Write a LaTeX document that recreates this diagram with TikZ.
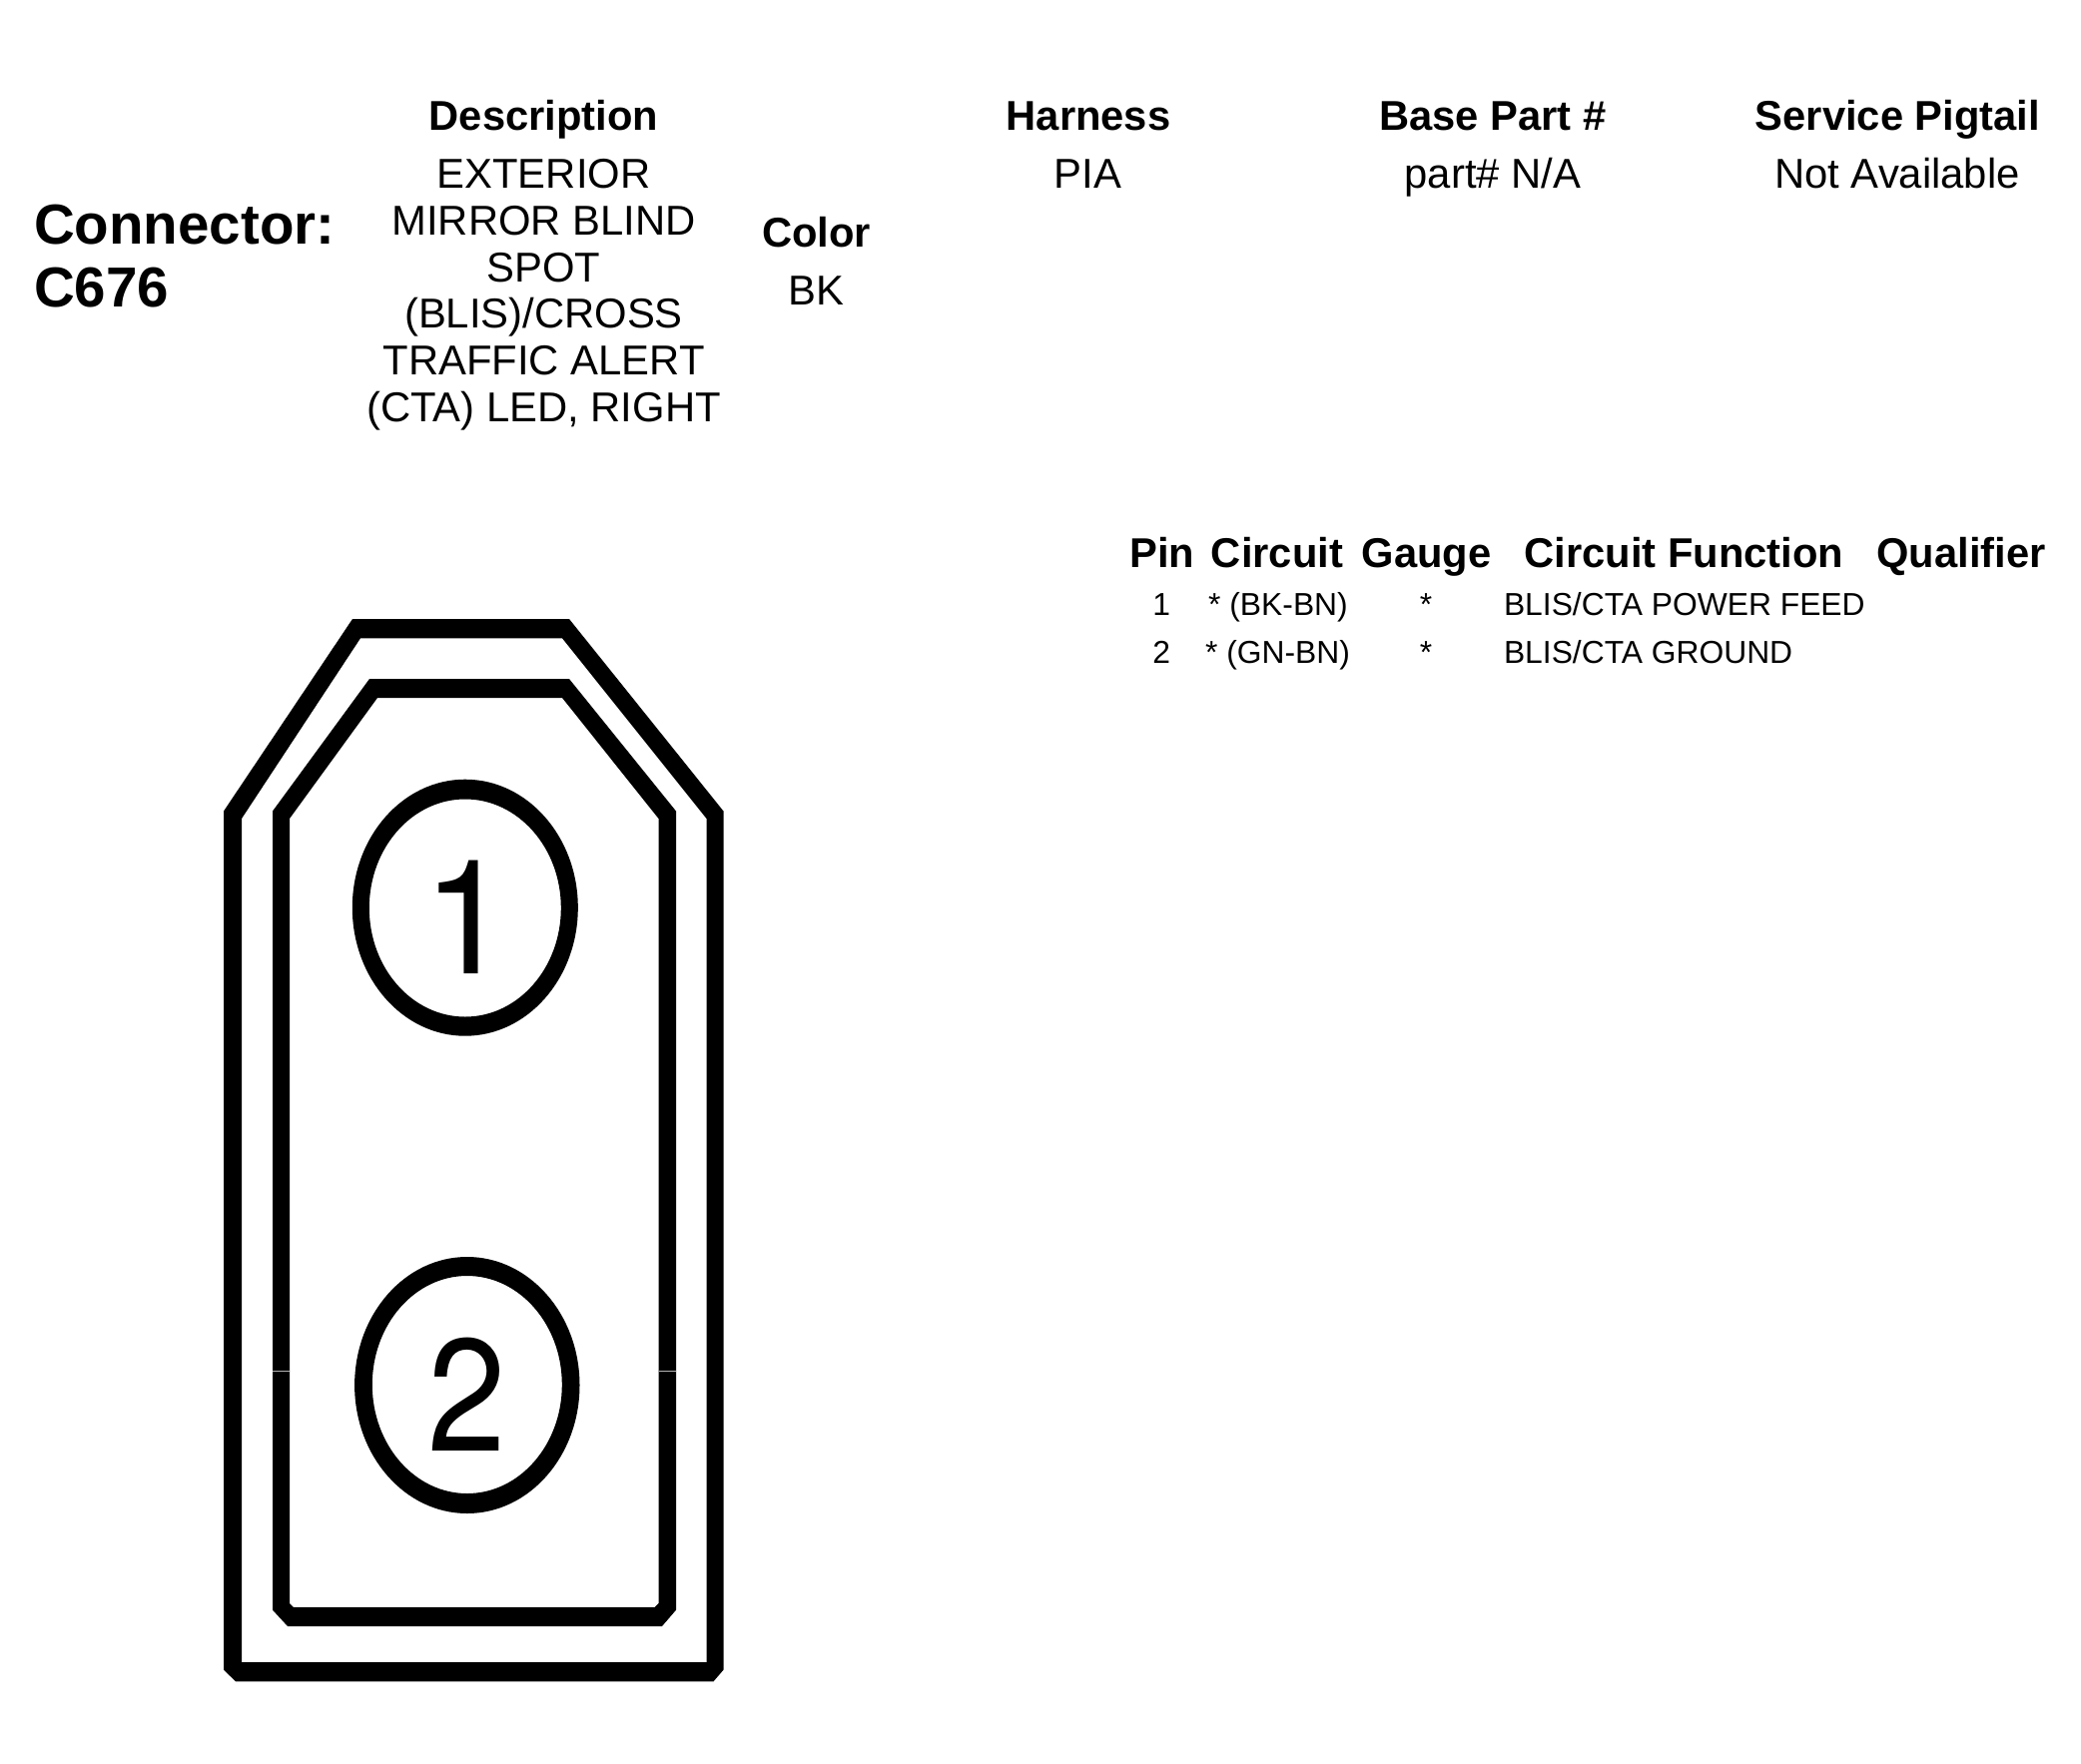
\documentclass[tikz,border=0pt]{standalone}
\usepackage{graphicx}
\usepackage{fontspec}
\setmainfont{Liberation Sans}
\newfontfamily\pinfont{TeX Gyre Heros}
\tikzset{
  px/.style={inner sep=0pt,outer sep=0pt,text depth=0pt},
  head/.style={px,anchor=base,font=\fontsize{41.7}{46.7}\selectfont\bfseries},
  body/.style={px,anchor=base,font=\fontsize{41.8}{46.7}\selectfont},
  bighead/.style={px,anchor=base west,font=\fontsize{56.5}{64}\selectfont\bfseries},
  thead/.style={px,anchor=base,font=\fontsize{41.7}{46}\selectfont\bfseries},
  tcell/.style={px,anchor=base,font=\fontsize{31.8}{36}\selectfont},
  tcellw/.style={px,anchor=base west,font=\fontsize{31.8}{36}\selectfont},
  pindigit/.style={px,anchor=base,font=\fontsize{160}{160}\pinfont\selectfont},
  solidpart/.style={fill=black,even odd rule,draw=none}
}
\begin{document}
\begin{tikzpicture}[x=1pt,y=-1pt]
\useasboundingbox (0,0) rectangle (2084,1766);
\fill[white] (0,0) rectangle (2084,1766);
% connector outline
\fill[solidpart]
  (224,812.5) -- (353,620) -- (570,620) -- (724.5,812.5) -- (724.5,1672.7) -- (714.5,1684.3) -- (236,1684.3) -- (224,1672.7) -- cycle
  (242,820) -- (242,1665) -- (707.5,1665) -- (707.5,820) -- (563,639.3) -- (361,639.3) -- cycle;
\fill[solidpart]
  (273,812.5) -- (370,680) -- (570,680) -- (677,812.5) -- (677,1612.7) -- (663,1629) -- (288,1629) -- (273,1612.7) -- cycle
  (290,820) -- (290,1606) -- (294,1610) -- (655.5,1610) -- (659.5,1606) -- (659.5,820) -- (563,699) -- (378,699) -- cycle;
\draw[gray!60,line width=0.8pt] (273,1373) -- (290,1373) (659.5,1373) -- (677,1373);
% pins
\fill[solidpart] (465.8,909.2) ellipse [x radius=113,y radius=128.5]
                 (465.8,909.5) ellipse [x radius=96,y radius=109];
\fill[solidpart] (467.8,1387.5) ellipse [x radius=112.7,y radius=128.5]
                 (467.8,1387) ellipse [x radius=95,y radius=109];
\node[pindigit] (pinA) at (468,975.7) {1};
\node[pindigit] (pinB) at (468,1453.3) {\scalebox{.88}[1]{2}};
% title
\node[bighead] (conn) at (34,244) {Connector:};
\node[bighead] (cid) at (34,307) {C676};
% headings
\node[head] (hdesc) at (544.5,131) {Description};
\node[head] (hharn) at (1090,131) {Harness};
\node[head] (hbase) at (1495,131) {Base Part \#};
\node[head] (hpig) at (1900.5,131) {Service Pigtail};
\node[head] (hcol) at (817.7,247) {Color};
% values
\node[body] (v1) at (544.5,188.7) {EXTERIOR};
\node[body] (v2) at (544.5,235.5) {MIRROR BLIND};
\node[body] (v3) at (544.5,282) {SPOT};
\node[body] (v4) at (544.5,328.7) {(BLIS)/CROSS};
\node[body] (v5) at (544.5,375) {TRAFFIC ALERT};
\node[body] (v6) at (544.5,422) {(CTA) LED, RIGHT};
\node[body] (vharn) at (1089.5,188.7) {PIA};
\node[body] (vbase) at (1495,188.7) {part\# N/A};
\node[body] (vpig) at (1900,188.7) {Not Available};
\node[body] (vcol) at (817,305.5) {BK};
% table
\node[thead] (tp) at (1164,568.7) {Pin};
\node[thead] (tc) at (1279,568.7) {Circuit};
\node[thead] (tg) at (1428.7,568.7) {Gauge};
\node[thead] (tf) at (1686.3,568.7) {Circuit Function};
\node[thead] (tq) at (1964,568.7) {Qualifier};
\node[tcell] (r1p) at (1163.3,616.3) {1};
\node[tcell] (r1c) at (1280,616.3) {* (BK-BN)};
\node[tcell] (r1g) at (1428,616.3) {*};
\node[tcellw] (r1f) at (1506,616.3) {BLIS/CTA POWER FEED};
\node[tcell] (r2p) at (1163.3,664.3) {2};
\node[tcell] (r2c) at (1279.5,664.3) {* (GN-BN)};
\node[tcell] (r2g) at (1428,664.3) {*};
\node[tcellw] (r2f) at (1506,664.3) {BLIS/CTA GROUND};
\end{tikzpicture}
\end{document}
